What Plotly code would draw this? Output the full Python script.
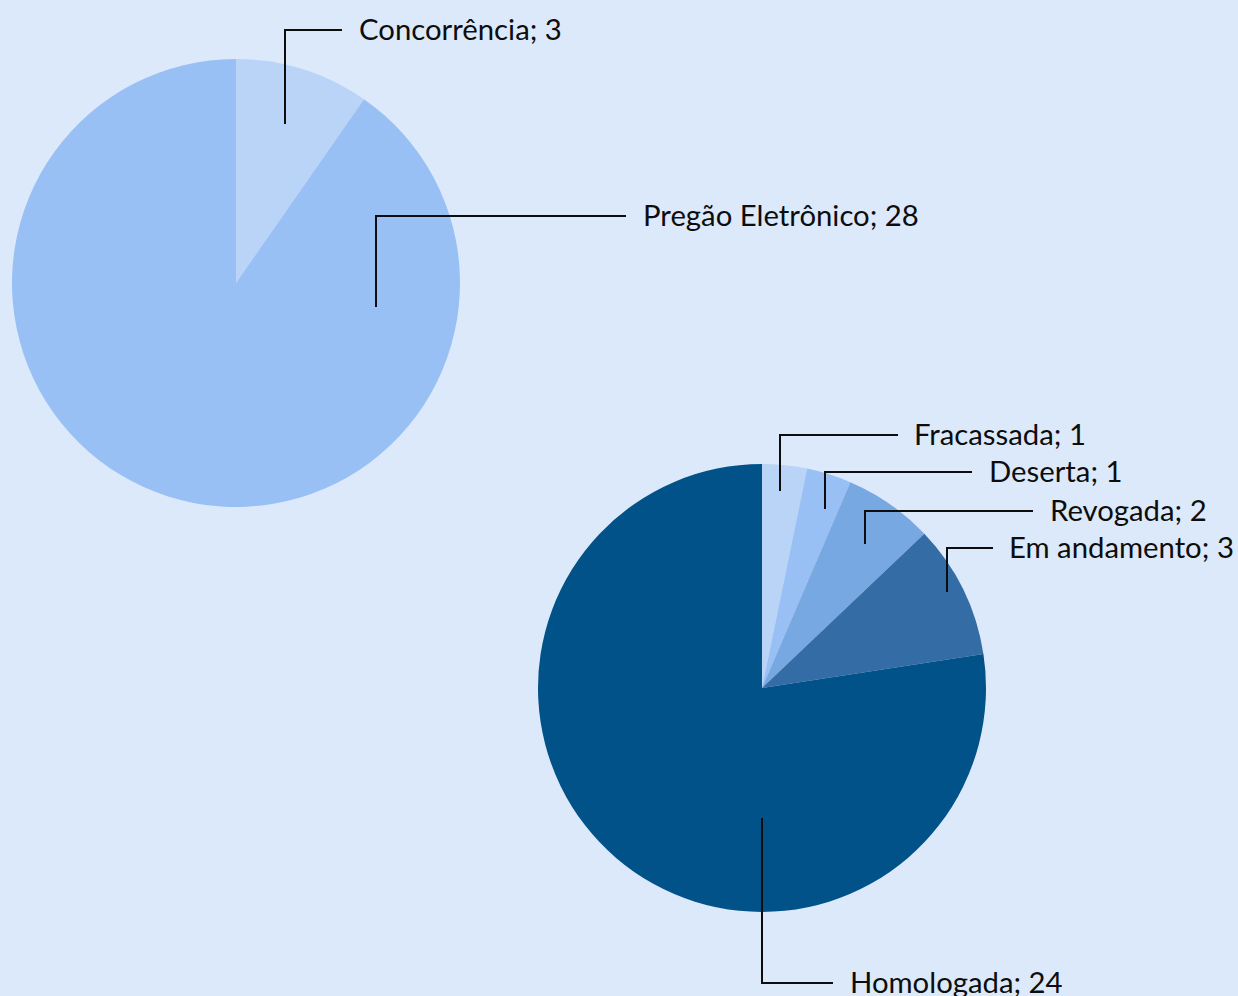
import plotly.graph_objects as go

# Data
modal_labels = ["Concorrência", "Pregão Eletrônico"]
modal_values = [3, 28]
modal_colors = ["#bad4f7", "#99c0f4"]

status_labels = ["Fracassada", "Deserta", "Revogada", "Em andamento", "Homologada"]
status_values = [1, 1, 2, 3, 24]
status_colors = ["#bad4f7", "#99c0f4", "#78a8e2", "#346ca5", "#005288"]

W, H = 1238, 996
BG = "#dce9fa"
FONT = "Lato, Carlito, 'Liberation Sans', sans-serif"


def px_x(x):
    return x / W


def px_y(y):
    return 1 - y / H


def domain(cx, cy, r):
    return dict(x=[px_x(cx - r), px_x(cx + r)], y=[px_y(cy + r), px_y(cy - r)])


fig = go.Figure()
fig.add_trace(go.Pie(
    labels=modal_labels, values=modal_values, sort=False, direction="clockwise",
    rotation=0, textinfo="none", hoverinfo="label+value",
    marker=dict(colors=modal_colors, line=dict(width=0)),
    domain=domain(236, 283, 224), showlegend=False,
))
fig.add_trace(go.Pie(
    labels=status_labels, values=status_values, sort=False, direction="clockwise",
    rotation=0, textinfo="none", hoverinfo="label+value",
    marker=dict(colors=status_colors, line=dict(width=0)),
    domain=domain(762, 688, 224), showlegend=False,
))

# Callout geometry (pixels): anchor inside slice, elbow y, end of horizontal run, label x
callouts = [
    (modal_labels[0], modal_values[0], (285, 124), 30, 342, 357),
    (modal_labels[1], modal_values[1], (376, 307), 216, 626, 641),
    (status_labels[0], status_values[0], (780, 491), 435, 898, 912),
    (status_labels[1], status_values[1], (825, 509), 472, 972, 987),
    (status_labels[2], status_values[2], (865, 544), 511, 1033, 1048),
    (status_labels[3], status_values[3], (947, 592), 548, 993, 1007),
    (status_labels[4], status_values[4], (762, 818), 983, 833, 848),
]

shapes = []
annotations = []
for name, val, (ax, ay), ey, hx, lx in callouts:
    path = f"M {px_x(ax)} {px_y(ay)} L {px_x(ax)} {px_y(ey)} L {px_x(hx)} {px_y(ey)}"
    shapes.append(dict(type="path", xref="paper", yref="paper", path=path,
                       line=dict(color="#0d0d0d", width=2)))
    annotations.append(dict(
        xref="paper", yref="paper", x=px_x(lx), y=px_y(ey - 2),
        xanchor="left", yanchor="middle", showarrow=False,
        text=f"{name}; {val}", font=dict(family=FONT, size=29.3, color="#0d0d0d"),
    ))

fig.update_layout(
    width=W, height=H, margin=dict(l=0, r=0, t=0, b=0),
    paper_bgcolor=BG, plot_bgcolor=BG,
    shapes=shapes, annotations=annotations,
)

fig.write_html("out.html")
